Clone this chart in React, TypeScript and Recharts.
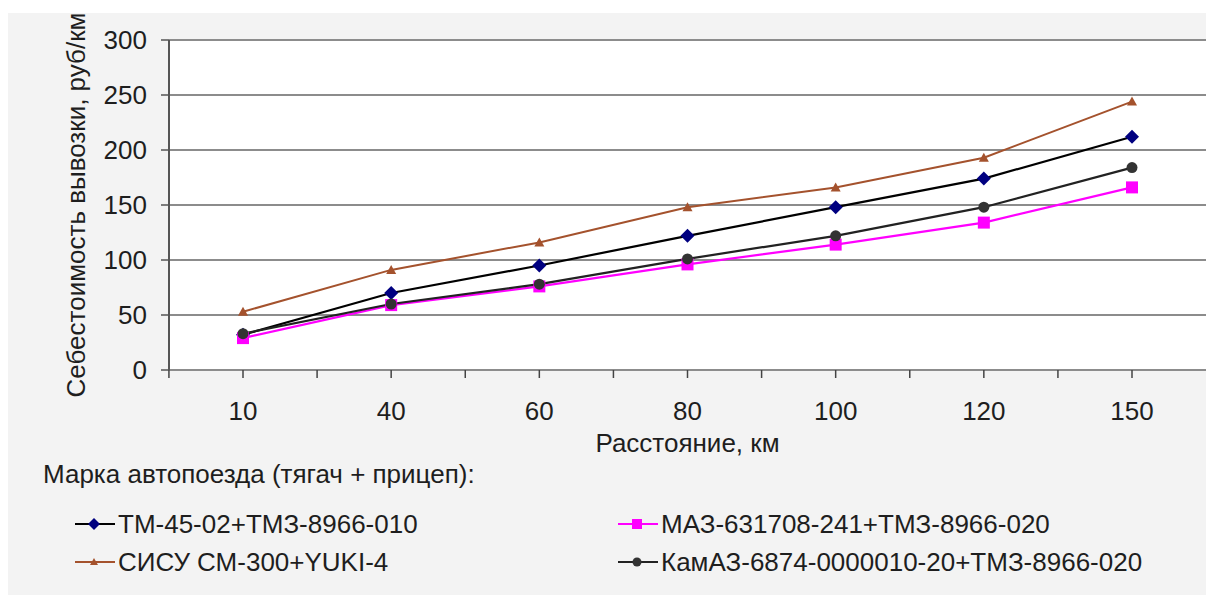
import React from 'react';
import { LineChart, Line, XAxis, YAxis, CartesianGrid, Legend } from 'recharts';

const categories = ['10', '40', '60', '80', '100', '120', '150'];
const tmSeries = [32, 70, 95, 122, 148, 174, 212];
const mazSeries = [29, 59, 76, 96, 114, 134, 166];
const sisuSeries = [53, 91, 116, 148, 166, 193, 244];
const kamazSeries = [33, 60, 78, 101, 122, 148, 184];
const yTicks = [0, 50, 100, 150, 200, 250, 300];

const seriesNames = [
  'ТМ-45-02+ТМЗ-8966-010',
  'МАЗ-631708-241+ТМЗ-8966-020',
  'СИСУ СМ-300+YUKI-4',
  'КамАЗ-6874-0000010-20+ТМЗ-8966-020',
];
const legendTitle = 'Марка автопоезда (тягач + прицеп):';
const yTitle = 'Себестоимость вывозки, руб/км';
const xTitle = 'Расстояние, км';

const data = categories.map((c, i) => ({
  x: c,
  tm: tmSeries[i],
  maz: mazSeries[i],
  sisu: sisuSeries[i],
  kamaz: kamazSeries[i],
}));

const FONT = '"Liberation Sans", Arial, sans-serif';
const FS = 26;
const TEXT = '#1e1e1e';
const W = 1198;
const H = 582;
const PLOT_LEFT = 161;
const PAD = 74;
const HALF_BAND = (W - PLOT_LEFT) / categories.length / 2;

const Diamond = (p: any) => {
  const { cx, cy } = p;
  if (cx == null || cy == null) return null;
  const s = 7;
  return <polygon points={`${cx},${cy - s} ${cx + s},${cy} ${cx},${cy + s} ${cx - s},${cy}`} fill="#000080" />;
};
const Square = (p: any) => {
  const { cx, cy } = p;
  if (cx == null || cy == null) return null;
  const s = 6;
  return <rect x={cx - s} y={cy - s} width={2 * s} height={2 * s} fill="#ff00ff" />;
};
const Triangle = (p: any) => {
  const { cx, cy } = p;
  if (cx == null || cy == null) return null;
  const s = 5;
  return <polygon points={`${cx},${cy - s} ${cx + s},${cy + s * 0.8} ${cx - s},${cy + s * 0.8}`} fill="#a4522d" />;
};
const Circle = (p: any) => {
  const { cx, cy } = p;
  if (cx == null || cy == null) return null;
  return <circle cx={cx} cy={cy} r={5.5} fill="#333333" />;
};

const XTick = (props: any) => {
  const { x, y, payload } = props;
  const axisY = y - 8;
  return (
    <g>
      <line x1={x - HALF_BAND} x2={x - HALF_BAND} y1={axisY} y2={axisY + 8} stroke="#444" strokeWidth={1.5} />
      <text x={x} y={axisY + 41} dy="0.355em" textAnchor="middle" fontSize={FS} fontFamily={FONT} fill={TEXT}>
        {payload.value}
      </text>
    </g>
  );
};

const legendItems = [
  { name: seriesNames[0], color: '#000000', marker: 'diamond', mcolor: '#000080' },
  { name: seriesNames[1], color: '#ff00ff', marker: 'square', mcolor: '#ff00ff' },
  { name: seriesNames[2], color: '#a4522d', marker: 'triangle', mcolor: '#a4522d' },
  { name: seriesNames[3], color: '#222222', marker: 'circle', mcolor: '#333333' },
];

const LegendIcon = ({ color, marker, mcolor }: any) => (
  <svg width={40} height={20} style={{ display: 'block' }}>
    <line x1={0} x2={40} y1={10} y2={10} stroke={color} strokeWidth={2} />
    {marker === 'diamond' && <polygon points="19,4 25,10 19,16 13,10" fill={mcolor} />}
    {marker === 'square' && <rect x={14} y={5} width={10} height={10} fill={mcolor} />}
    {marker === 'triangle' && <polygon points="19,6 23,13 15,13" fill={mcolor} />}
    {marker === 'circle' && <circle cx={19} cy={10} r={4.5} fill={mcolor} />}
  </svg>
);

const renderLegend = () => {
  const pos = [
    { left: 67, top: 56 },
    { left: 610, top: 56 },
    { left: 67, top: 94 },
    { left: 610, top: 94 },
  ];
  return (
    <div style={{ position: 'relative', width: W, height: 130, fontFamily: FONT, color: TEXT, fontSize: FS }}>
      <div style={{ position: 'absolute', left: 35, top: 6, lineHeight: '30px', whiteSpace: 'nowrap' }}>{legendTitle}</div>
      {legendItems.map((it, i) => (
        <div key={i} style={{ position: 'absolute', left: pos[i].left, top: pos[i].top, display: 'flex', alignItems: 'center', height: 30, whiteSpace: 'nowrap' }}>
          <LegendIcon color={it.color} marker={it.marker} mcolor={it.mcolor} />
          <span style={{ marginLeft: 3, lineHeight: '30px' }}>{it.name}</span>
        </div>
      ))}
    </div>
  );
};

export default function App() {
  return (
    <div style={{ position: 'absolute', left: 8, top: 13, width: W, height: H, background: '#f3f3f3' }}>
      <LineChart width={W} height={H} data={data} margin={{ top: 27, right: 0, bottom: 155, left: 0 }}>
        <CartesianGrid vertical={false} fill="#ffffff" stroke="#8c8c8c" strokeWidth={2} />
        <XAxis
          dataKey="x"
          scale="point"
          padding={{ left: PAD, right: PAD }}
          height={70}
          interval={0}
          tickSize={8}
          tickMargin={0}
          tickLine={{ stroke: '#444', strokeWidth: 1.5 }}
          axisLine={{ stroke: '#8c8c8c', strokeWidth: 2 }}
          tick={<XTick />}
          label={{
            content: (p: any) => {
              const vb = p.viewBox;
              return (
                <text x={vb.x + vb.width / 2} y={vb.y + 73} dy="0.355em" textAnchor="middle" fontSize={FS} fontFamily={FONT} fill={TEXT}>
                  {xTitle}
                </text>
              );
            },
          }}
        />
        <YAxis
          width={PLOT_LEFT}
          domain={[0, 300]}
          ticks={yTicks}
          interval={0}
          tickSize={8}
          tickMargin={14}
          tickLine={{ stroke: '#555', strokeWidth: 1.5 }}
          axisLine={{ stroke: '#555', strokeWidth: 2 }}
          tick={{ fontSize: FS, fontFamily: FONT, fill: TEXT }}
          label={{
            content: (p: any) => {
              const vb = p.viewBox;
              const cx = vb.x + 68;
              const cy = vb.y + vb.height / 2;
              return (
                <text x={cx} y={cy} dy="0.355em" transform={`rotate(-90, ${cx}, ${cy})`} textAnchor="middle" fontSize={FS} fontFamily={FONT} fill={TEXT}>
                  {yTitle}
                </text>
              );
            },
          }}
        />
        <Legend
          verticalAlign="middle"
          align="center"
          layout="horizontal"
          content={renderLegend}
          wrapperStyle={{ left: 0, top: 440, width: W }}
        />
        <Line type="linear" dataKey="tm" name={seriesNames[0]} stroke="#000000" strokeWidth={2.2} dot={<Diamond />} isAnimationActive={false} />
        <Line type="linear" dataKey="maz" name={seriesNames[1]} stroke="#ff00ff" strokeWidth={2.2} dot={<Square />} isAnimationActive={false} />
        <Line type="linear" dataKey="sisu" name={seriesNames[2]} stroke="#a4522d" strokeWidth={2} dot={<Triangle />} isAnimationActive={false} />
        <Line type="linear" dataKey="kamaz" name={seriesNames[3]} stroke="#222222" strokeWidth={2.2} dot={<Circle />} isAnimationActive={false} />
      </LineChart>
    </div>
  );
}
